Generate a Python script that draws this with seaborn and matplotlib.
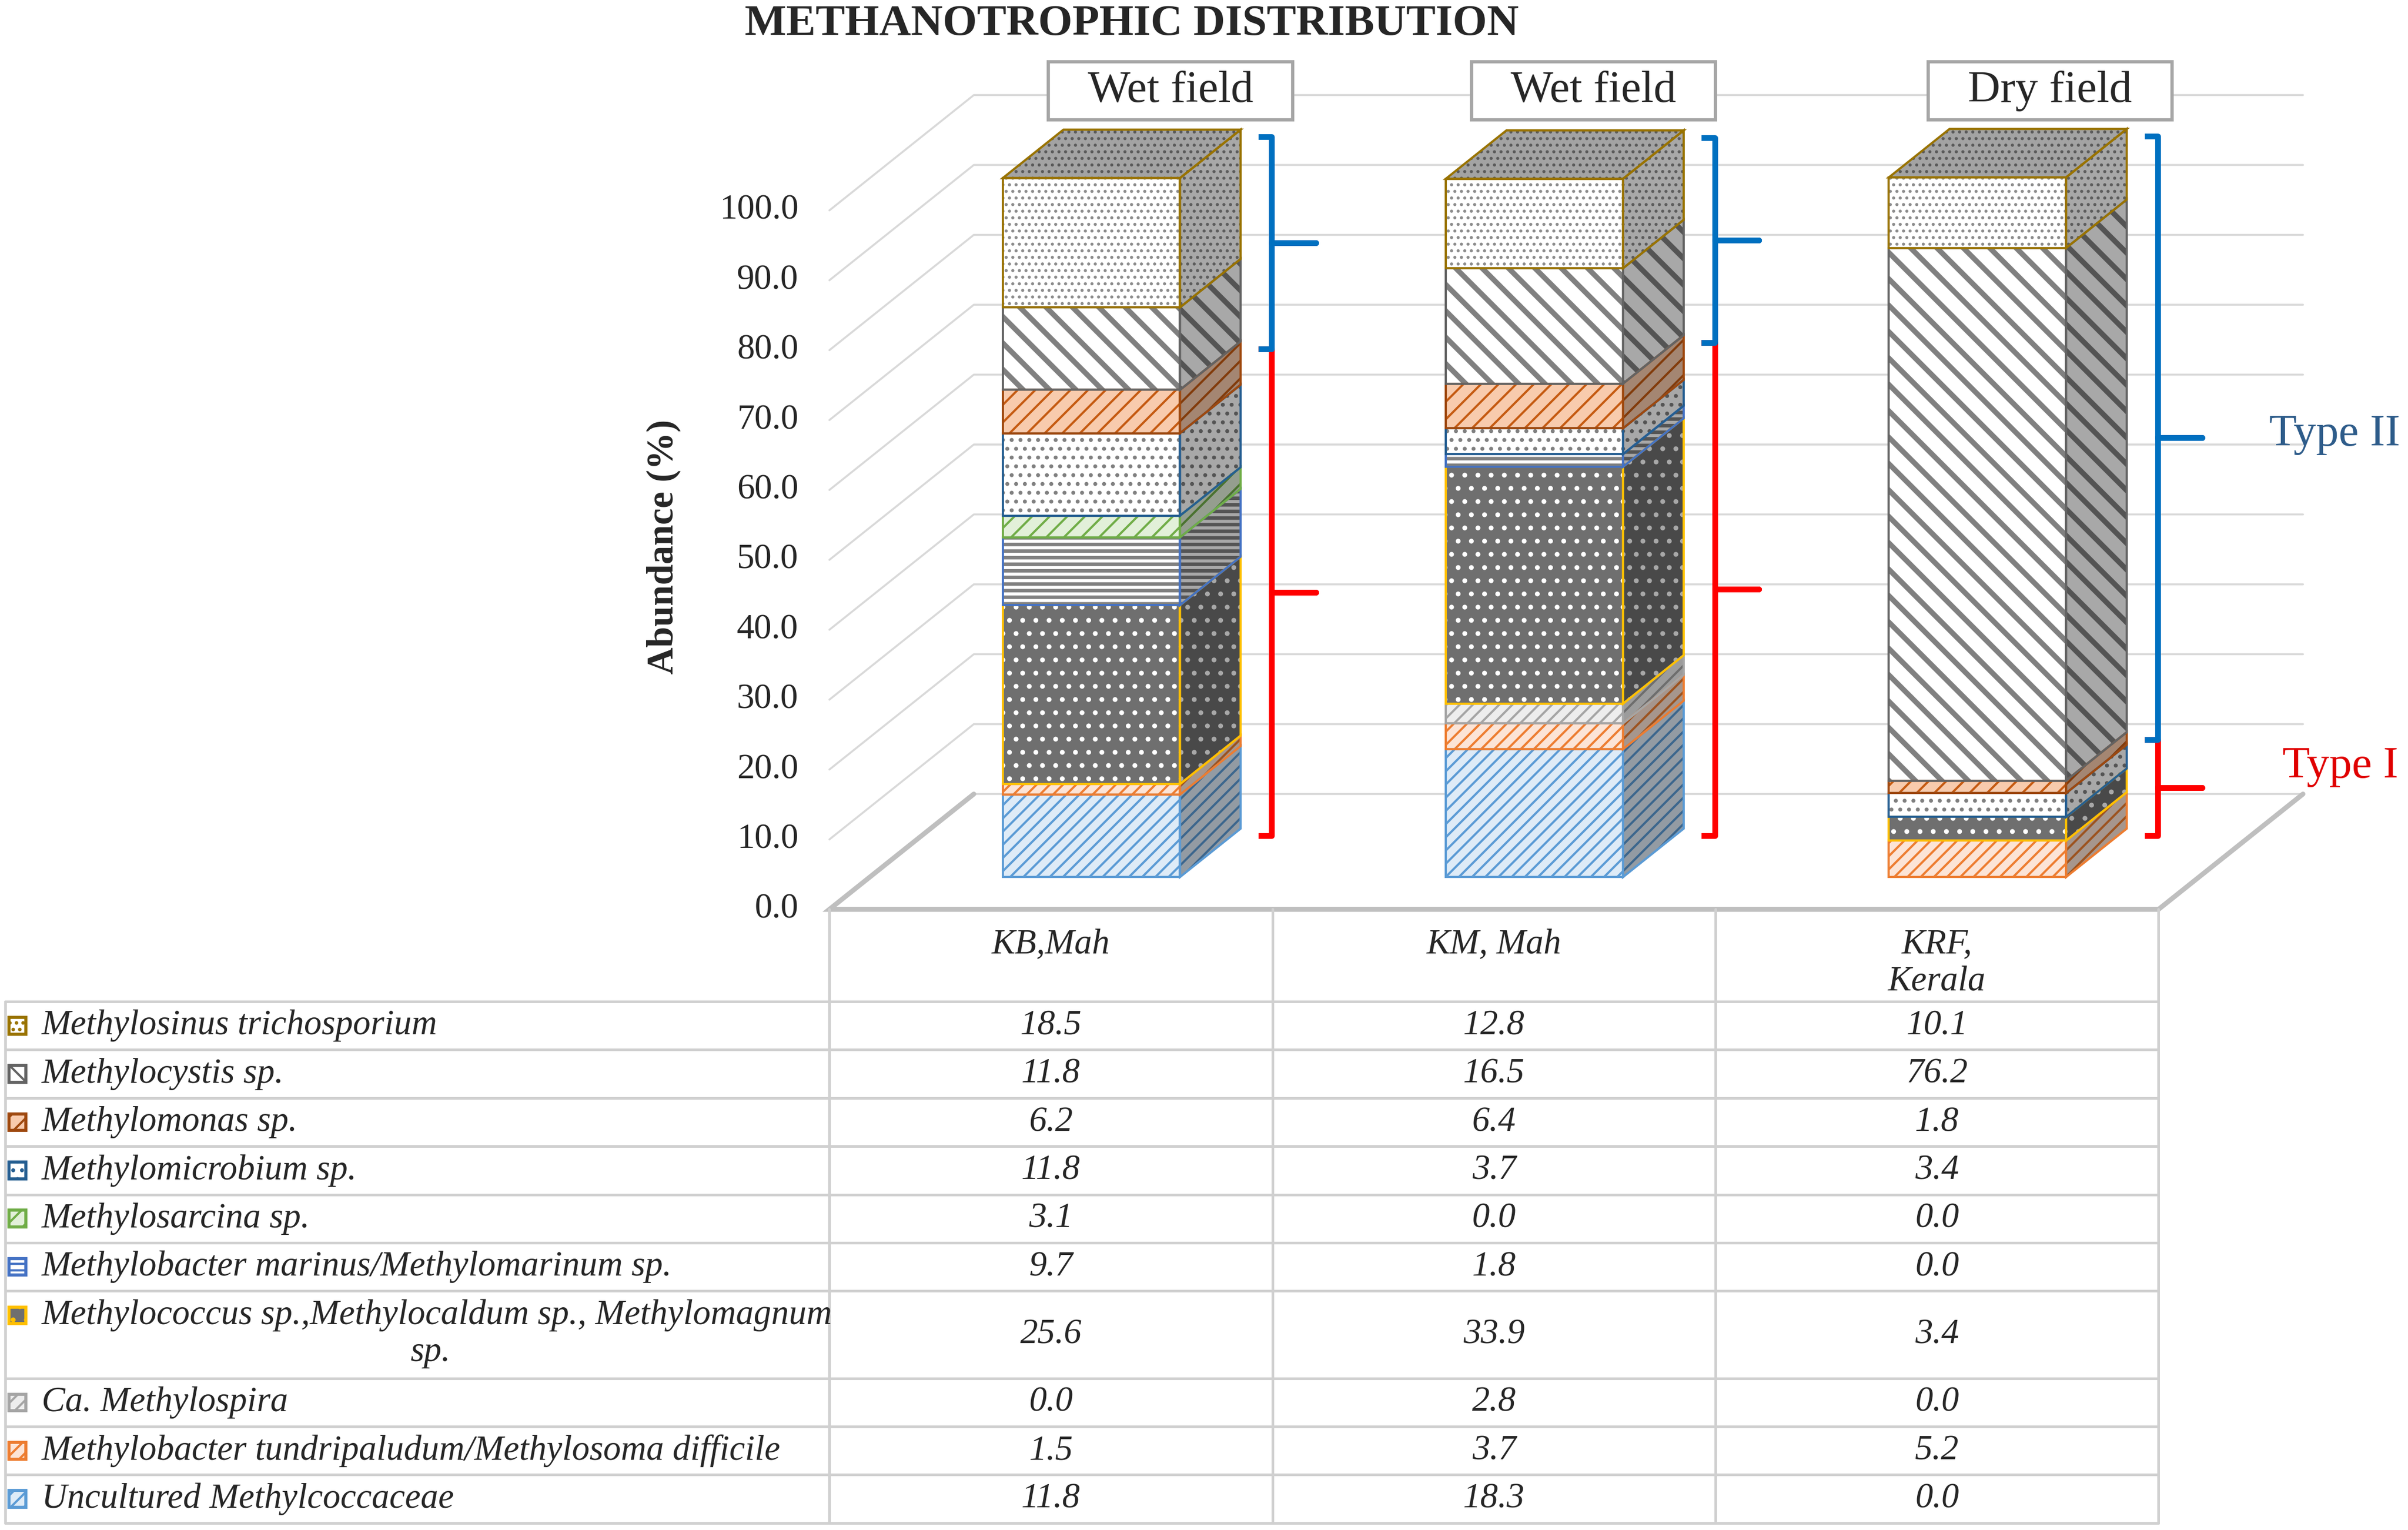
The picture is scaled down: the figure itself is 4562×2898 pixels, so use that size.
import numpy as np
import matplotlib
matplotlib.use("Agg")
import matplotlib.pyplot as plt
import matplotlib.colors as mcolors
from matplotlib.patches import Polygon, Rectangle
import seaborn as sns

# ---- data (stack order: bottom first) ----
species = ["Uncultured Methylcoccaceae",
           "Methylobacter tundripaludum/Methylosoma difficile",
           "Ca. Methylospira",
           "Methylococcus sp.,Methylocaldum sp., Methylomagnum sp.",
           "Methylobacter marinus/Methylomarinum sp.",
           "Methylosarcina sp.",
           "Methylomicrobium sp.",
           "Methylomonas sp.",
           "Methylocystis sp.",
           "Methylosinus trichosporium"]
sites = ["KB,Mah", "KM, Mah", "KRF,\nKerala"]
fields = ["Wet field", "Wet field", "Dry field"]
kb_mah = [11.8, 1.5, 0.0, 25.6, 9.7, 3.1, 11.8, 6.2, 11.8, 18.5]
km_mah = [18.3, 3.7, 2.8, 33.9, 1.8, 0.0, 3.7, 6.4, 16.5, 12.8]
krf_kerala = [0.0, 5.2, 0.0, 3.4, 0.0, 0.0, 3.4, 1.8, 76.2, 10.1]
type_ii = ["Methylocystis sp.", "Methylosinus trichosporium"]
yticks = np.arange(0, 101, 10)

values = [kb_mah, km_mah, krf_kerala]

# ---- styles ----
edge_cols = sns.color_palette(["#5B9BD5", "#ED7D31", "#A5A5A5", "#FFC000", "#4472C4",
                               "#70AD47", "#255E91", "#9E480E", "#636363", "#997300"])
face_cols = ["#DEEBF7", "#FCE4D6", "#EDEDED", "#6F6F6F", "#FFFFFF",
             "#E2F0D9", "#FFFFFF", "#F8CBAD", "#FFFFFF", "#FFFFFF"]
hatch_cols = ["#5B9BD5", "#ED7D31", "#A5A5A5", "#FFFFFF", "#808080",
              "#70AD47", "#808080", "#C55A11", "#808080", "#8C8C8C"]
hatches = ["////", "////", "////", "..", "----", "///", "...", "///", "\\\\", "...."]
hatch_widths = [1.0, 1.0, 1.0, 1.0, 1.6, 1.0, 1.0, 1.0, 2.4, 0.8]
box_dx = [0.27, 0.225, 0.255]

sns.set_theme(style="white")
plt.rcParams["font.family"] = ["Liberation Serif", "DejaVu Serif"]
plt.rcParams["hatch.linewidth"] = 1.0

DX, DY = 0.326, 16.5   # depth of the floor (x units, % units)
DF, DB = 0.28, 0.70    # bar front / back depth
W = 0.4
GRID = "#D9D9D9"
LINE = "#D0D0D0"


def shade(c, f):
    r, g, b = mcolors.to_rgb(c)
    return (r * f, g * f, b * f)


def set_hlw(artists, lw):
    for a in artists:
        if hasattr(a, "set_hatch_linewidth"):
            a.set_hatch_linewidth(lw)


def face(ax, pts, k, f):
    p = Polygon(pts, closed=True, facecolor=shade(face_cols[k], f),
                edgecolor=shade(hatch_cols[k], f), hatch=hatches[k], lw=0, zorder=3)
    ax.add_patch(p)
    set_hlw([p], hatch_widths[k])
    ax.add_patch(Polygon(pts, closed=True, fill=False, edgecolor=edge_cols[k], lw=1.0, zorder=3.2))


fig = plt.figure(figsize=(4562 / 300, 2898 / 300), dpi=300)
ax = fig.add_axes([0, 0, 1, 1])
ax.set_xlim(-2.372, 3.063)
ax.set_ylim(-88.8, 130.1)
ax.axis("off")

# walls / grid
for v in yticks:
    ax.plot([-0.5, -0.5 + DX, 2.5 + DX], [v, v + DY, v + DY], color=GRID, lw=0.9, zorder=1)
    ax.text(-0.57, v, f"{v:.1f}", ha="right", va="center", fontsize=16)
ax.plot([-0.5 + DX, -0.5, 2.5, 2.5 + DX], [DY, 0, 0, DY], color="#BFBFBF", lw=2.2,
        zorder=1.5, solid_joinstyle="miter")

# bars
d = DB - DF
for i, vals in enumerate(values):
    x = i + DF * DX
    bottom = DF * DY
    top_k = max(k for k, v in enumerate(vals) if v > 0)
    for k, v in enumerate(vals):
        if v <= 0:
            continue
        bars = ax.bar(x, v, W, bottom=bottom, color=face_cols[k], edgecolor=hatch_cols[k],
                      hatch=hatches[k], linewidth=0, zorder=3)
        set_hlw(bars.patches, hatch_widths[k])
        ax.bar(x, v, W, bottom=bottom, fill=False, edgecolor=edge_cols[k], linewidth=1.0, zorder=3.2)
        xr = x + W / 2
        face(ax, [(xr, bottom), (xr + d * DX, bottom + d * DY),
                  (xr + d * DX, bottom + v + d * DY), (xr, bottom + v)], k, 0.66)
        if k == top_k:
            yt = bottom + v
            xl = x - W / 2
            face(ax, [(xl, yt), (xr, yt), (xr + d * DX, yt + d * DY), (xl + d * DX, yt + d * DY)], k, 0.64)
        bottom += v

    # field label box
    bx = i + box_dx[i]
    ax.add_patch(Rectangle((bx - 0.2755, 117.1 - 4.17), 0.551, 8.35, facecolor="white",
                           edgecolor="#A6A6A6", lw=1.5, zorder=5))
    ax.text(bx, 117.1, fields[i], ha="center", va="center", fontsize=20.5, zorder=6)

    # Type I / Type II braces
    sum_i = sum(v for s, v in zip(species, vals) if s not in type_ii)
    total = sum(vals)
    xs = x + W / 2 + d * DX + 0.07
    off = 10.5
    for y0, y1, col in [(off, off + sum_i, "#FF0000"), (off + sum_i, off + total, "#0070C0")]:
        ym = (y0 + y1) / 2
        ax.plot([xs - 0.03, xs, xs, xs + 0.1, xs, xs, xs - 0.03],
                [y1, y1, ym, ym, ym, y0, y0], color=col, lw=2.6,
                solid_joinstyle="round", solid_capstyle="butt", zorder=4)

ax.text(2.75, 67.9, "Type II", ha="left", va="center", fontsize=20.5, color="#2E5C8A")
ax.text(2.78, 20.4, "Type I", ha="left", va="center", fontsize=20.5, color="#E00000")

ax.text(0.183, 125.1, "METHANOTROPHIC DISTRIBUTION", ha="center", va="baseline",
        fontsize=20, weight="bold")
ax.text(-0.874, 51.9, "Abundance (%)", rotation=90, ha="center", va="center",
        fontsize=17, weight="bold")

# ---- data table ----
x_left = -2.36
header_h, row_h, tall_h = 13.2, 6.9, 12.5
for i, s in enumerate(sites):
    ax.text(i, -2.7, s, ha="center", va="top", fontsize=16, style="italic", linespacing=1.2)

y = -header_h
for k in reversed(range(len(species))):
    name = species[k]
    h = tall_h if len(name) > 50 else row_h
    y_top, y_bot = y, y - h
    yc = (y_top + y_bot) / 2
    ax.plot([x_left, 2.5], [y_top, y_top], color=LINE, lw=1.2, zorder=2)
    y_key = y_top - 3.5 if h == tall_h else yc
    key = Rectangle((-2.352, y_key - 1.2), 0.038, 2.4, facecolor=face_cols[k],
                    edgecolor=edge_cols[k], hatch=hatches[k], lw=1.4, zorder=3)
    ax.add_patch(key)
    if h == tall_h:
        first, last = name.rsplit(" ", 1)
        ax.text(-2.278, y_key, first, ha="left", va="center", fontsize=16, style="italic")
        ax.text(-1.401, y_top - 8.8, last, ha="center", va="center", fontsize=16, style="italic")
    else:
        ax.text(-2.278, yc, name, ha="left", va="center", fontsize=16, style="italic")
    for i, vals in enumerate(values):
        ax.text(i, yc, f"{vals[k]:.1f}", ha="center", va="center", fontsize=16, style="italic")
    y = y_bot
ax.plot([x_left, 2.5], [y, y], color=LINE, lw=1.2, zorder=2)
ax.plot([x_left, x_left], [-header_h, y], color=LINE, lw=1.2, zorder=2)
for xv in [-0.5, 0.5, 1.5, 2.5]:
    ax.plot([xv, xv], [0, y], color=LINE, lw=1.2, zorder=2)

fig.savefig("out.png", dpi=300)
